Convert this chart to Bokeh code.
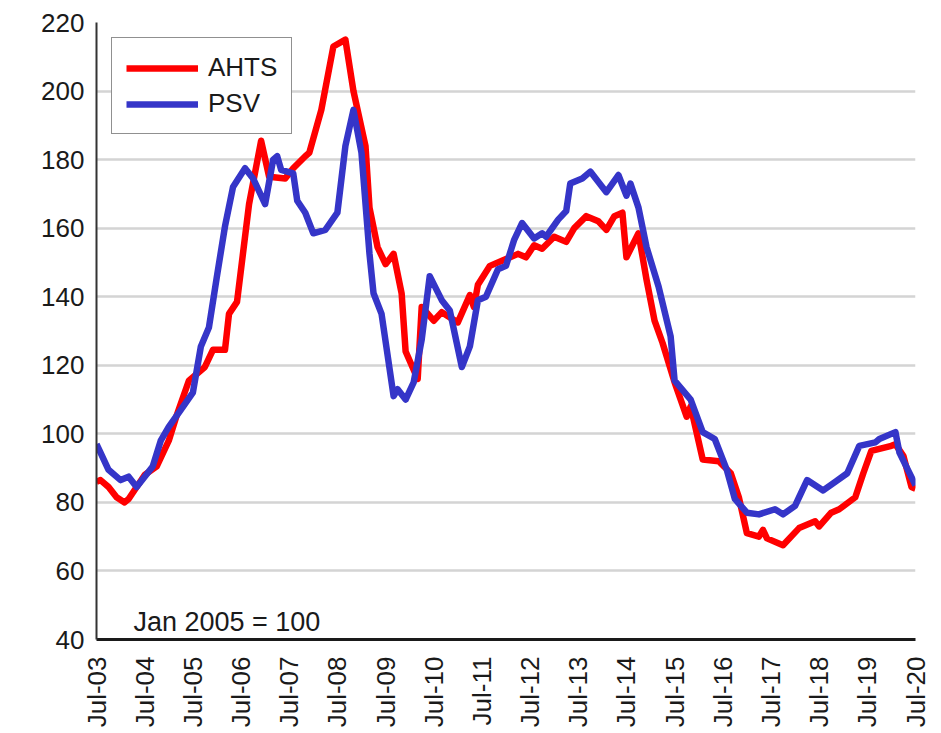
import pandas as pd
from bokeh.plotting import figure
from bokeh.models import FixedTicker, Range1d, Legend, LegendItem, Label
from bokeh.embed import file_html
from bokeh.resources import INLINE
from math import pi

# x = months since Jul-2003
ahts_month = [0, 1, 3, 5, 7, 8, 10, 12, 15, 18, 20, 23, 27, 29, 32, 33, 35, 38, 41, 43,
              47, 49, 52, 53, 56, 59, 62, 64, 67, 68, 70, 72, 74, 76, 77, 80, 81, 84, 86, 90,
              93, 94, 95, 98, 101, 105, 107, 109, 111, 114, 117, 119, 122, 125, 127, 129, 131, 132, 135, 137,
              139, 141, 144, 147, 148, 151, 155, 158, 160, 162, 165, 166, 167, 171, 175, 179, 180, 183, 185, 189,
              191, 193, 198, 199, 201, 203, 204]
ahts_value = [86, 86.5, 84.5, 81.5, 80, 81, 84.5, 88, 90.5, 98, 105.5, 115.5, 119.5, 124.5, 124.5, 135, 138.5, 167, 185.5, 175,
              174.5, 177.5, 181, 182, 194.5, 213, 215, 200, 184, 166, 154.5, 149.5, 152.5, 141, 124, 116, 137, 133, 135.5, 132.5,
              140.5, 137, 143.5, 149, 150.5, 152.5, 151.5, 155, 154, 157.5, 156, 160, 163.5, 162, 159.5, 163.5, 164.5, 151.5, 158.5, 145,
              133, 126.5, 115, 105, 108, 92.5, 92, 88.5, 81.5, 71, 70, 72, 69.5, 67.5, 72.5, 74.5, 73, 77, 78, 81.5,
              88.5, 95, 96.5, 97, 93.5, 84.5, 84]

psv_month = [0, 1, 3, 6, 8, 10, 12, 14, 16, 18, 21, 24, 26, 28, 30, 32, 34, 37, 39, 42,
             44, 45, 46, 49, 50, 52, 54, 57, 60, 62, 64, 66, 68, 69, 71, 74, 75, 77, 79, 81,
             83, 86, 88, 91, 93, 95, 97, 100, 102, 104, 106, 109, 111, 112, 115, 117, 118, 121, 123, 127,
             130, 132, 133, 135, 137, 140, 143, 144, 148, 151, 154, 157, 159, 162, 165, 169, 171, 174, 175, 177,
             181, 184, 187, 190, 194, 195, 199, 200, 204]
psv_value = [97, 94.5, 89.5, 86.5, 87.5, 84.5, 87.5, 90.5, 98, 102, 107, 112, 125.5, 131, 146, 160.5, 172, 177.5, 174.5, 167,
             180, 181, 177, 176, 168, 164.5, 158.5, 159.5, 164.5, 184, 194.5, 182, 152.5, 141, 135, 111, 113, 110, 115, 127.5,
             146, 139, 136, 119.5, 125.5, 139, 140, 148, 149, 156.5, 161.5, 157, 158.5, 157.5, 162.5, 165, 173, 174.5, 176.5, 170.5,
             175.5, 169.5, 173, 166, 154.5, 143, 128.5, 115.5, 110, 100.5, 98.5, 89.5, 81, 77, 76.5, 78, 76.5, 79, 81.5, 86.5,
             83.5, 86, 88.5, 96.5, 97.5, 98.5, 100.5, 94.5, 85]

tick_months = [0, 12, 24, 36, 48, 60, 72, 84, 96, 108, 120, 132, 144, 156, 168, 180, 192, 204]
tick_labels = ["Jul-03", "Jul-04", "Jul-05", "Jul-06", "Jul-07", "Jul-08", "Jul-09", "Jul-10", "Jul-11",
               "Jul-12", "Jul-13", "Jul-14", "Jul-15", "Jul-16", "Jul-17", "Jul-18", "Jul-19", "Jul-20"]
y_ticks = [40, 60, 80, 100, 120, 140, 160, 180, 200, 220]

FONT = "Liberation Sans"

p = figure(width=933, height=730, output_backend="svg", toolbar_location=None,
           x_range=Range1d(0, 204), y_range=Range1d(40, 220),
           min_border_left=96, min_border_right=18, min_border_top=22, min_border_bottom=90)
p.outline_line_color = None
p.background_fill_color = "white"

r_ahts = p.line(x=ahts_month, y=ahts_value, line_color="#ff0000", line_width=6.5, line_join="round")
r_psv = p.line(x=psv_month, y=psv_value, line_color="#3535c8", line_width=6.5, line_join="round")

p.xgrid.visible = False
p.ygrid.ticker = FixedTicker(ticks=y_ticks)
p.ygrid.grid_line_color = "#d4d4d4"
p.ygrid.grid_line_width = 2.5

p.yaxis.ticker = FixedTicker(ticks=y_ticks)
p.yaxis.major_tick_line_color = None
p.yaxis.minor_tick_line_color = None
p.yaxis.major_tick_out = 0
p.yaxis.major_tick_in = 0
p.yaxis.major_label_standoff = 12
p.yaxis.axis_line_color = "#333333"
p.yaxis.axis_line_width = 2
p.yaxis.major_label_text_font = FONT
p.yaxis.major_label_text_font_size = "26px"
p.yaxis.major_label_text_color = "#1a1a1a"

p.xaxis.ticker = FixedTicker(ticks=tick_months)
p.xaxis.major_label_overrides = {m: lab for m, lab in zip(tick_months, tick_labels)}
p.xaxis.major_label_orientation = pi / 2
p.xaxis.major_tick_line_color = None
p.xaxis.minor_tick_line_color = None
p.xaxis.major_tick_out = 0
p.xaxis.major_tick_in = 0
p.xaxis.major_label_standoff = 17
p.xaxis.axis_line_color = "#1a1a1a"
p.xaxis.axis_line_width = 3
p.xaxis.major_label_text_font = FONT
p.xaxis.major_label_text_font_size = "26px"
p.xaxis.major_label_text_color = "#1a1a1a"

legend = Legend(items=[LegendItem(label="AHTS", renderers=[r_ahts]),
                       LegendItem(label="PSV", renderers=[r_psv])],
                location="top_left", margin=15, padding=14, spacing=5,
                glyph_width=72, glyph_height=30, label_height=30, label_standoff=10,
                label_text_font=FONT, label_text_font_size="26px", label_text_color="#1a1a1a",
                border_line_color="#222222", border_line_width=1.5,
                background_fill_color="white", background_fill_alpha=1)
p.add_layout(legend)

note = Label(x=9.2, y=45.2, text="Jan 2005 = 100", text_font=FONT, text_font_size="27px",
             text_color="#1a1a1a", text_baseline="alphabetic")
p.add_layout(note)

open("out.html", "w").write(file_html(p, INLINE))
